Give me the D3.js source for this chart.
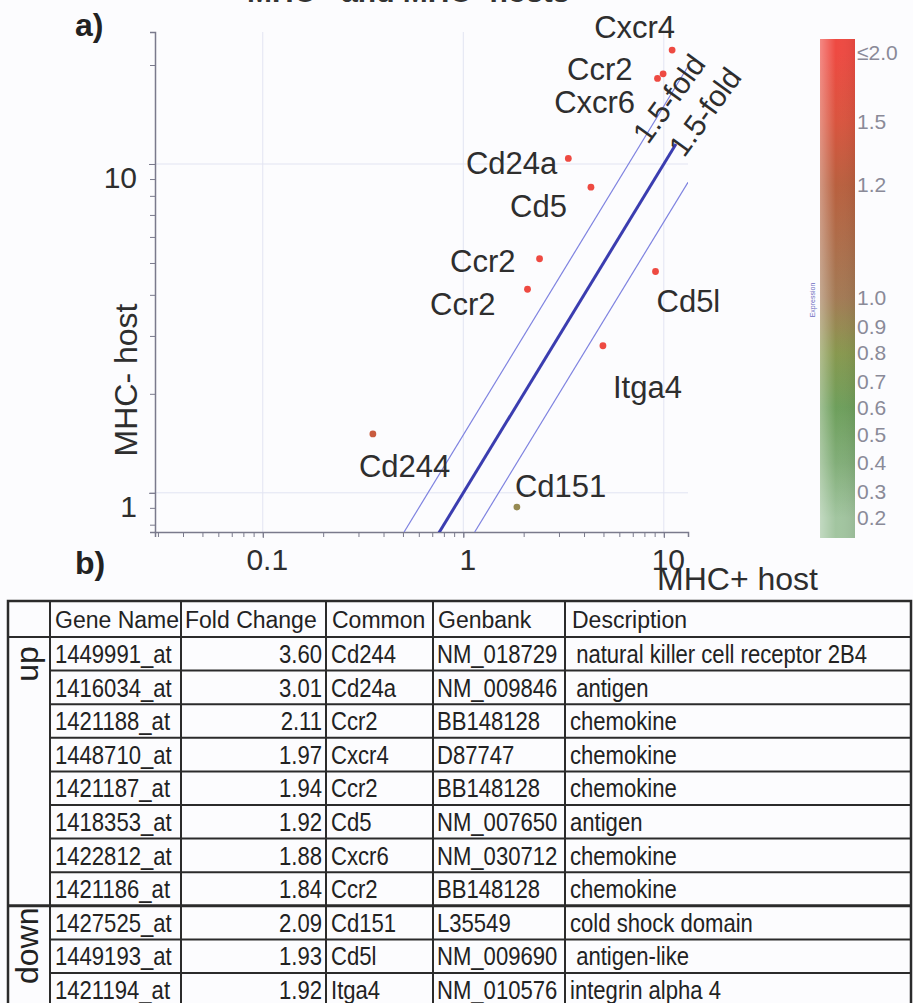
<!DOCTYPE html>
<html><head><meta charset="utf-8">
<script src="https://cdn.jsdelivr.net/npm/d3@7"></script>
<style>
html,body{margin:0;padding:0;background:#fcfcfe;}
svg{display:block;}
</style></head><body>
<svg id="c" width="913" height="1003"></svg>
<script>
// ---------------- data ----------------
const chartTitle = "MHC+ and MHC- hosts";
const genes      = ["Cxcr4","Ccr2","Cxcr6","Cd24a","Cd5","Ccr2","Ccr2","Cd5l","Itga4","Cd244","Cd151"];
const mhcPlus    = [11.0, 9.30, 9.92, 3.34, 4.33, 2.40, 2.09, 9.09, 4.97, 0.354, 1.85];
const mhcMinus   = [22.2, 18.2, 18.8, 10.4, 8.5, 5.15, 4.16, 4.71, 2.80, 1.51, 0.905];
const expression = [2.0, 2.0, 2.0, 2.0, 2.0, 2.0, 2.0, 2.0, 2.0, 1.35, 0.9];
const xTickLabels = [0.1, 1, 10];
const yTickLabels = [1, 10];
const foldRatio = 1.5;
const legendValues = [2.0, 1.5, 1.2, 1.0, 0.9, 0.8, 0.7, 0.6, 0.5, 0.4, 0.3, 0.2];
const legendLabels = ["\u22642.0","1.5","1.2","1.0","0.9","0.8","0.7","0.6","0.5","0.4","0.3","0.2"];

const tableHeader = ["Gene Name","Fold Change","Common","Genbank","Description"];
const probeIds   = ["1449991_at","1416034_at","1421188_at","1448710_at","1421187_at","1418353_at","1422812_at","1421186_at","1427525_at","1449193_at","1421194_at"];
const foldChange = [3.60, 3.01, 2.11, 1.97, 1.94, 1.92, 1.88, 1.84, 2.09, 1.93, 1.92];
const commonNames= ["Cd244","Cd24a","Ccr2","Cxcr4","Ccr2","Cd5","Cxcr6","Ccr2","Cd151","Cd5l","Itga4"];
const genbankIds = ["NM_018729","NM_009846","BB148128","D87747","BB148128","NM_007650","NM_030712","BB148128","L35549","NM_009690","NM_010576"];
const descriptions = [" natural killer cell receptor 2B4"," antigen","chemokine","chemokine","chemokine","antigen","chemokine","chemokine","cold shock domain"," antigen-like","integrin alpha 4"];
const directions = ["up","up","up","up","up","up","up","up","down","down","down"];

// ---------------- layout ----------------
const FONT = "'Liberation Sans', Arial, Helvetica, sans-serif";
const svg = d3.select("#c");
svg.append("rect").attr("width",913).attr("height",1003).attr("fill","#fcfcfe");

const plot = {left:155, right:688, top:32, bottom:532};
const x = d3.scaleLog().domain([0.029, 13.2]).range([plot.left, plot.right]);
const y = d3.scaleLog().domain([0.76, 25.2]).range([plot.bottom, plot.top]);

// label offsets (layout, px relative to the point)
const labelLayout = [
  {dx:3,dy:-12,a:"end"},{dx:-25,dy:2,a:"end"},{dx:-28,dy:39,a:"end"},{dx:-11,dy:16,a:"end"},
  {dx:-24,dy:30,a:"end"},{dx:-24,dy:13,a:"end"},{dx:-32,dy:26,a:"end"},{dx:1,dy:40,a:"start"},
  {dx:10,dy:52,a:"start"},{dx:-14,dy:43,a:"start"},{dx:-2,dy:-10,a:"start"}];

// title (mostly cropped at the top)
svg.append("text").attr("x",247).attr("y",2).attr("font-family",FONT).attr("font-weight","bold")
  .attr("font-size",30).attr("fill","#333").text(chartTitle);

// panel letters
svg.append("text").attr("x",75).attr("y",36).attr("font-family",FONT).attr("font-weight","bold")
  .attr("font-size",32).attr("fill","#222").text("a)");
svg.append("text").attr("x",75).attr("y",574).attr("font-family",FONT).attr("font-weight","bold")
  .attr("font-size",32).attr("fill","#222").text("b)");

// grid
const g = svg.append("g");
g.selectAll("line.gx").data(xTickLabels).join("line")
  .attr("x1",d=>x(d)).attr("x2",d=>x(d)).attr("y1",plot.top).attr("y2",plot.bottom)
  .attr("stroke","#e2e4f2").attr("stroke-width",1);
g.selectAll("line.gy").data(yTickLabels).join("line")
  .attr("y1",d=>y(d)).attr("y2",d=>y(d)).attr("x1",plot.left).attr("x2",plot.right)
  .attr("stroke","#e2e4f2").attr("stroke-width",1);

// axes: minor ticks
const axisColor = "#7a7a8c";
const xMinor = svg.append("g").attr("transform",`translate(0,${plot.bottom})`)
  .call(d3.axisBottom(x).tickValues(x.ticks()).tickSize(5).tickFormat(""));
const yMinor = svg.append("g").attr("transform",`translate(${plot.left},0)`)
  .call(d3.axisLeft(y).tickValues(y.ticks()).tickSize(5).tickFormat(""));
[xMinor,yMinor].forEach(a=>{a.select(".domain").attr("stroke",axisColor).attr("stroke-width",1.5);
  a.selectAll(".tick line").attr("stroke",axisColor);});
// major ticks + labels
const xMajor = svg.append("g").attr("transform",`translate(0,${plot.bottom})`)
  .call(d3.axisBottom(x).tickValues(xTickLabels).tickSize(6).tickPadding(11).tickFormat(d=>String(d)));
const yMajor = svg.append("g").attr("transform",`translate(${plot.left},0)`)
  .call(d3.axisLeft(y).tickValues(yTickLabels).tickSize(6).tickPadding(12).tickFormat(d=>String(d)));
[xMajor,yMajor].forEach(a=>{a.select(".domain").remove();
  a.selectAll(".tick line").attr("stroke",axisColor);
  a.selectAll(".tick text").attr("font-family",FONT).attr("font-size",30).attr("fill","#2e2e2e");});
xMajor.selectAll(".tick text").attr("dx",4);
yMajor.selectAll(".tick text").attr("dy","0.8em");

// axis titles
svg.append("text").attr("x",657).attr("y",590).attr("font-family",FONT).attr("font-size",32)
  .attr("fill","#2e2e2e").text("MHC+ host");
svg.append("text").attr("transform","translate(137,380) rotate(-90)").attr("text-anchor","middle")
  .attr("font-family",FONT).attr("font-size",32).attr("fill","#2e2e2e").text("MHC- host");

// clip for lines
svg.append("clipPath").attr("id","pc").append("rect")
  .attr("x",plot.left).attr("y",plot.top).attr("width",plot.right-plot.left).attr("height",plot.bottom-plot.top);

const line = d3.line().x(d=>x(d[0])).y(d=>y(d[1]));
const lg = svg.append("g").attr("clip-path","url(#pc)");
const foldLow = y.domain()[0];
// upper fold line  y = 1.5x
lg.append("path").datum([[foldLow/foldRatio, foldLow],[13.1, 13.1*foldRatio]]).attr("d",line)
  .attr("fill","none").attr("stroke","#7e82e0").attr("stroke-width",1.2);
// lower fold line  y = x/1.5
lg.append("path").datum([[foldLow*foldRatio, foldLow],[13.2, 13.2/foldRatio]]).attr("d",line)
  .attr("fill","none").attr("stroke","#7e82e0").attr("stroke-width",1.2);
// identity line
lg.append("path").datum([[0.74,0.74],[11.5,11.5]]).attr("d",line)
  .attr("fill","none").attr("stroke","#3b3db0").attr("stroke-width",3);

// fold labels
const foldLabels = [{x:8.34,y:11.4},{x:12.6,y:10.4}];
svg.selectAll("text.fold").data(foldLabels).join("text")
  .attr("transform",d=>`translate(${x(d.x)},${y(d.y)}) rotate(-54)`)
  .attr("font-family",FONT).attr("font-size",30).attr("fill","#2e2e2e").text(`${foldRatio}-fold`);

// legend colour scale
const legendStops = [2.0,1.5,1.2,1.0,0.9,0.8,0.6,0.4,0.2];
const legendColors = ["#ee4a42","#d9553f","#b9603f","#a37a55","#968a52","#88984f","#6e9f5c","#82ae79","#a2c5a0"];
const color = d3.scaleLinear().domain(legendStops).range(legendColors).clamp(true);
const legPos = d3.scaleLinear()
  .domain([0.2,0.3,0.4,0.5,0.6,0.7,0.8,0.9,1.0,1.2,1.5,2.0])
  .range([518,492,463,435,408,382,353,327,298,185,122,53]);
const bar = {x:820, w:35, top:39, bottom:538};
const defs = svg.append("defs");
const vg = defs.append("linearGradient").attr("id","lg").attr("x1",0).attr("x2",0).attr("y1",0).attr("y2",1);
const stopVals = [2.0,1.5,1.2,1.0,0.9,0.8,0.6,0.4,0.2];
vg.selectAll("stop").data(stopVals).join("stop")
  .attr("offset",d=>Math.max(0,(legPos(d)-bar.top)/(bar.bottom-bar.top)))
  .attr("stop-color",d=>color(d));
vg.append("stop").attr("offset",1).attr("stop-color",color(0.2));
const hg = defs.append("linearGradient").attr("id","hg").attr("x1",0).attr("x2",1).attr("y1",0).attr("y2",0);
hg.append("stop").attr("offset",0).attr("stop-color","#fff").attr("stop-opacity",0.35);
hg.append("stop").attr("offset",0.45).attr("stop-color","#fff").attr("stop-opacity",0.0);
hg.append("stop").attr("offset",1).attr("stop-color","#000").attr("stop-opacity",0.06);
svg.append("rect").attr("x",bar.x).attr("y",bar.top).attr("width",bar.w).attr("height",bar.bottom-bar.top).attr("fill","url(#lg)");
svg.append("rect").attr("x",bar.x).attr("y",bar.top).attr("width",bar.w).attr("height",bar.bottom-bar.top).attr("fill","url(#hg)");
svg.selectAll("text.leg").data(legendValues).join("text")
  .attr("x",bar.x+37).attr("y",d=>legPos(d)).attr("dy","0.35em")
  .attr("font-family",FONT).attr("font-size",21).attr("fill","#8a8a98")
  .text((d,i)=>legendLabels[i]);
svg.append("text").attr("transform","translate(815,300) rotate(-90)").attr("text-anchor","middle")
  .attr("font-family",FONT).attr("font-size",7).attr("fill","#6b6bc0").text("Expression");

// points
const pts = genes.map((gname,i)=>({g:gname, px:mhcPlus[i], py:mhcMinus[i], e:expression[i], l:labelLayout[i]}));
svg.selectAll("circle.pt").data(pts).join("circle")
  .attr("cx",d=>x(d.px)).attr("cy",d=>y(d.py)).attr("r",3.4).attr("fill",d=>color(d.e));
svg.selectAll("text.pl").data(pts).join("text")
  .attr("x",d=>x(d.px)+d.l.dx).attr("y",d=>y(d.py)+d.l.dy).attr("text-anchor",d=>d.l.a)
  .attr("font-family",FONT).attr("font-size",31).attr("fill","#2e2e2e").text(d=>d.g);

// ---------------- table ----------------
const cols = [8, 50, 181, 326, 433, 565, 911];
const tTop = 601, headH = 36, rowH = 33.6;
const tBottom = tTop + headH + rowH*probeIds.length;
const T = svg.append("g");
const lineC = "#2b2b2b";
// outer
T.append("rect").attr("x",cols[0]).attr("y",tTop).attr("width",cols[6]-cols[0]).attr("height",tBottom-tTop)
  .attr("fill","none").attr("stroke",lineC).attr("stroke-width",2.5);
// vertical
T.selectAll("line.v").data(cols.slice(1,6)).join("line")
  .attr("x1",d=>d).attr("x2",d=>d).attr("y1",tTop).attr("y2",tBottom).attr("stroke",lineC).attr("stroke-width",2);
// horizontal row lines
const rowTops = probeIds.map((_,i)=>tTop+headH+i*rowH);
T.selectAll("line.h").data(rowTops).join("line")
  .attr("x1",(d,i)=> (i===0 || directions[i]!==directions[i-1]) ? cols[0] : cols[1])
  .attr("x2",cols[6]).attr("y1",d=>d).attr("y2",d=>d).attr("stroke",lineC)
  .attr("stroke-width",(d,i)=> (i>0 && directions[i]!==directions[i-1]) ? 3 : 2);
// header
const headX = [55,185,332,438,572];
T.selectAll("text.hd").data(tableHeader).join("text")
  .attr("x",(d,i)=>headX[i]).attr("y",tTop+27).attr("font-family",FONT).attr("font-size",23)
  .attr("fill","#222").text(d=>d);
// cells
const cellText = (sel, xx, anchor, vals) => {
  sel.selectAll(null).data(vals).join("text")
    .attr("transform",(d,i)=>`translate(${xx},${rowTops[i]+26}) scale(0.85,1)`)
    .attr("text-anchor",anchor).attr("font-family",FONT).attr("font-size",26).attr("fill","#222")
    .attr("xml:space","preserve").style("white-space","pre").text(d=>d);
};
cellText(T, 55, "start", probeIds);
cellText(T, 322, "end", foldChange.map(d=>d.toFixed(2)));
cellText(T, 331, "start", commonNames);
cellText(T, 437, "start", genbankIds);
cellText(T, 570, "start", descriptions);
// direction labels
const groups = d3.groups(directions.map((d,i)=>({d,i})), e=>e.d);
T.selectAll("text.dir").data(groups).join("text")
  .attr("transform",([k,arr])=>{
     const top = rowTops[arr[0].i];
     const cy = k==="up" ? top+27 : top+40;
     return `translate(38,${cy}) rotate(-90)`;})
  .attr("text-anchor","middle").attr("font-family",FONT).attr("font-size",32).attr("fill","#222")
  .text(([k])=>k);
</script>
</body></html>
